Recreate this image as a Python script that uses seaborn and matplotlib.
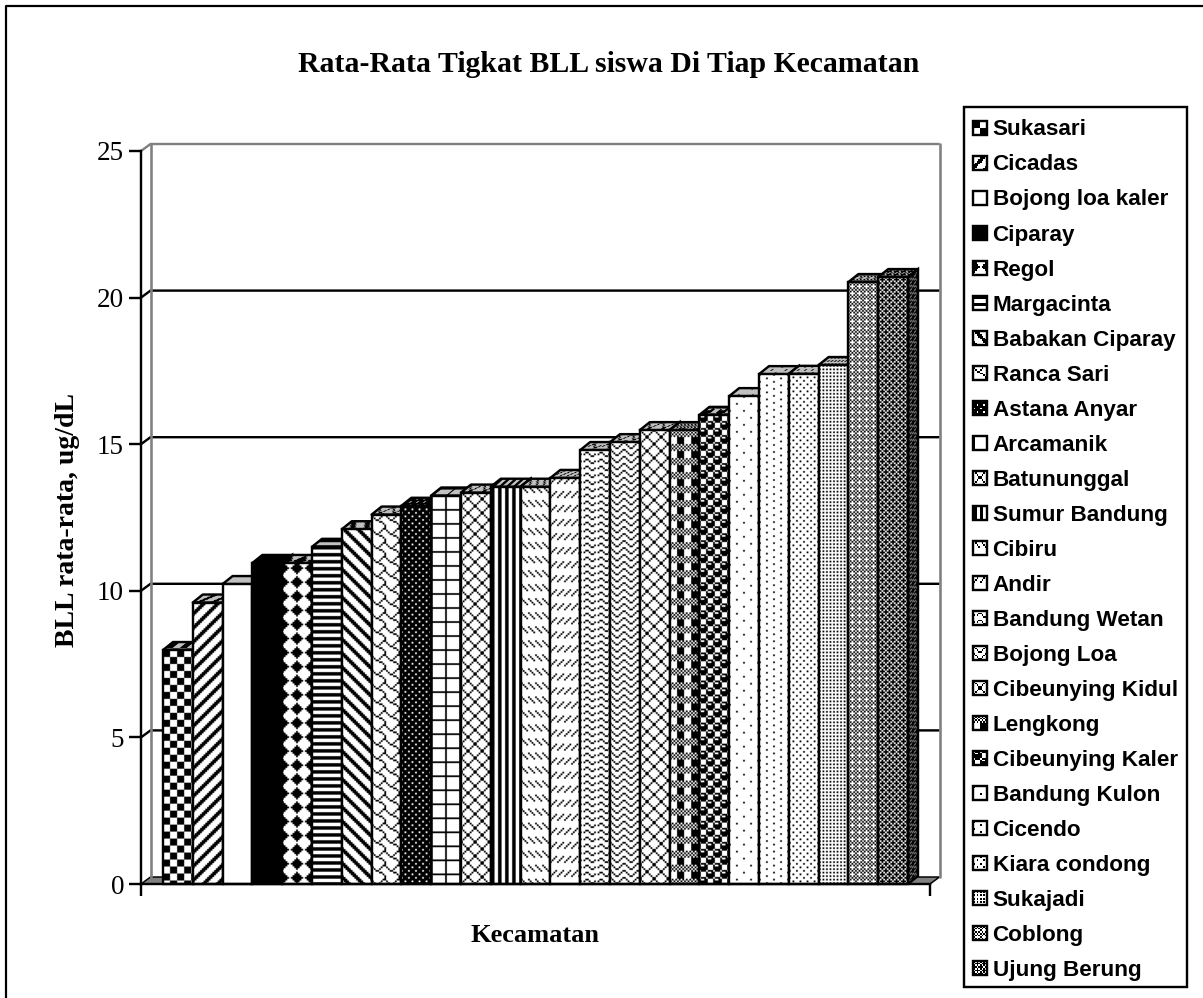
import numpy as np
import pandas as pd
import seaborn as sns
import matplotlib.pyplot as plt
from matplotlib.legend_handler import HandlerBase
from matplotlib.lines import Line2D
from matplotlib.patches import Patch, PathPatch, Polygon, Rectangle
from matplotlib.path import Path
from matplotlib.transforms import Affine2D

kecamatan = ['Sukasari', 'Cicadas', 'Bojong loa kaler', 'Ciparay', 'Regol', 'Margacinta',
             'Babakan Ciparay', 'Ranca Sari', 'Astana Anyar', 'Arcamanik', 'Batununggal',
             'Sumur Bandung', 'Cibiru', 'Andir', 'Bandung Wetan', 'Bojong Loa',
             'Cibeunying Kidul', 'Lengkong', 'Cibeunying Kaler', 'Bandung Kulon', 'Cicendo',
             'Kiara condong', 'Sukajadi', 'Coblong', 'Ujung Berung']
bll = [7.98, 9.6, 10.23, 10.95, 10.95, 11.5, 12.1, 12.6, 12.9, 13.25, 13.35, 13.55, 13.55,
       13.85, 14.8, 15.07, 15.48, 15.48, 16.0, 16.64, 17.39, 17.4, 17.7, 20.53, 20.7]
y_ticks = [0, 5, 10, 15, 20, 25]

# excel style fill patterns, X is black
diag_dn = ['XXX.....', '.XXX....', '..XXX...', '...XXX..', '....XXX.', '.....XXX', 'X.....XX', 'XX.....X']
dash_dn = ['X...X...', '.X...X..', '..X...X.', '...X...X', '........', '........', '........', '........']
lattice = ['X......X', '.X....X.', '..X..X..', '...XX...', '...XX...', '..X..X..', '.X....X.', 'X......X']
patterns = [
    ['XXXX....', 'XXXX....', 'XXXX....', 'XXXX....', '....XXXX', '....XXXX', '....XXXX', '....XXXX'],
    [r[::-1] for r in diag_dn],
    ['.'],
    ['X'],
    ['X.......', 'XX.....X', 'XXX...XX', 'XXXX.XXX', 'XXX...XX', 'XX.....X', 'X.......', '........'],
    ['X', 'X', '.', '.'],
    diag_dn,
    ['......XX', 'X....X..', '.X..X...', '..XX....', '....XX..', '......X.', '.......X', '.......X'],
    ['.XXX', 'XXXX', 'XX.X', 'XXXX'],
    ['XXXXXXXX', 'X.......', 'X.......', 'X.......', 'X.......', 'X.......', 'X.......', 'X.......'],
    lattice,
    ['XX..'],
    dash_dn,
    [r[::-1] for r in dash_dn],
    ['........', '...XX...', 'X.X..X..', '......XX'],
    ['X......X', '.X....X.', '..X..X..', '...XX...'],
    lattice,
    ['.X.X.X.X', 'X.X.X.X.', '.X.X.X.X', 'X.X.X.X.', '....XXXX', '....XXXX', '....XXXX', '....XXXX'],
    ['.XXX.XXX', 'X..XX...', 'XXXXX...', 'XXXXX...', '.XXX.XXX', 'X...X..X', 'X...XXXX', 'X...XXXX'],
    ['X.......', '........', '........', '........', '....X...', '........', '........', '........'],
    ['X.......', '........', '....X...', '........'],
    ['X...', '....', '..X.', '....'],
    ['X.', '..'],
    ['X.X.', '.X.X', 'X...', '.X.X'],
    ['X.X.', '.XXX', 'X.X.', 'XX.X'],
]

CELL = 1.75  # px per pattern cell
W, H = 1203, 998
AX_L, AX_R, AX_T, AX_B = 141, 930, 151, 884
BAR_DX, BAR_DY = 10, 8
WALL_DX, WALL_DY = 9.5, 7
PX = 1 / 100 * 72  # one pixel in points


def tile_image(rows, n_rows, n_cols, white=1.0):
    t = np.array([[0.0 if c == 'X' else white for c in r] for r in rows])
    reps = (n_rows // t.shape[0] + 1, n_cols // t.shape[1] + 1)
    return np.tile(t, reps)[:n_rows, :n_cols]


class SwatchHandler(HandlerBase):
    def __init__(self, rows):
        super().__init__()
        self.rows = rows

    def create_artists(self, legend, orig_handle, xdescent, ydescent, width, height, fontsize, trans):
        box = Rectangle((-xdescent, -ydescent), width, height, facecolor='white', edgecolor='black',
                        linewidth=2.4 * PX, transform=trans)
        t = tile_image(self.rows, 8, 8)
        cw, ch = width / 8, height / 8
        verts, codes = [], []
        for r in range(8):
            for c in range(8):
                if t[r, c] == 0:
                    x0, y0 = c * cw - xdescent, (7 - r) * ch - ydescent
                    verts += [(x0, y0), (x0 + cw, y0), (x0 + cw, y0 + ch), (x0, y0 + ch), (x0, y0)]
                    codes += [Path.MOVETO, Path.LINETO, Path.LINETO, Path.LINETO, Path.CLOSEPOLY]
        if not verts:
            return [box]
        fill = PathPatch(Path(verts, codes), facecolor='black', edgecolor='none', transform=trans)
        return [box, fill]


sns.set_style('white')
df = pd.DataFrame({'kecamatan': kecamatan, 'bll': bll})

fig = plt.figure(figsize=(W / 100, H / 100), dpi=100)
ax = fig.add_axes([AX_L / W, 1 - AX_B / H, (AX_R - AX_L) / W, (AX_B - AX_T) / H])

sns.barplot(data=df, x='kecamatan', y='bll', ax=ax, fill=False, color='black', width=1,
            linewidth=2.4 * PX, errorbar=None)
bars = list(ax.patches)

bar_w = 29.8
xlim = ((AX_L - 163) / bar_w - 0.5, (AX_R - 163) / bar_w - 0.5)
ylim = (0, 25)
ax.set_autoscale_on(False)
ax.set_xlim(xlim)
ax.set_ylim(ylim)
ux = (AX_R - AX_L) / (xlim[1] - xlim[0])  # px per x unit
uy = (AX_B - AX_T) / 25  # px per y unit

# back wall, floor and gridlines of the fake 3d box
wx, wy = WALL_DX / ux, WALL_DY / uy
ax.add_patch(Polygon([(xlim[0], 0), (xlim[0] + wx, wy), (xlim[1] + wx, wy), (xlim[1], 0)],
                     facecolor='#808080', edgecolor='black', linewidth=1.5 * PX, clip_on=False, zorder=1))
for v in y_ticks[1:]:
    c = '#808080' if v == 25 else 'black'
    ax.plot([xlim[0], xlim[0] + wx, xlim[1] + wx], [v, v + wy, v + wy], color=c, lw=2.4 * PX,
            clip_on=False, zorder=1, solid_capstyle='butt')
ax.plot([xlim[0] + wx, xlim[0] + wx], [wy, 25 + wy], color='#808080', lw=2.6 * PX, clip_on=False, zorder=1)
ax.plot([xlim[1] + wx, xlim[1] + wx], [wy, 25 + wy], color='#808080', lw=2.6 * PX, clip_on=False, zorder=1)

# pattern fills, each bar sits over the side of the one before
dx, dy = BAR_DX / ux, BAR_DY / uy
for i, bar in enumerate(bars):
    rows = patterns[i]
    x0, x1 = bar.get_x(), bar.get_x() + bar.get_width()
    v = bar.get_height()
    z = 5 + i
    n_c = int(round(bar_w / CELL))
    n_r = int(round(v * uy / CELL))
    bar.set_zorder(z + 0.5)
    bar.set_clip_on(False)
    # top face
    top = tile_image(rows, 5, n_c, white=0.75)
    ax.imshow(top, extent=(0, 1, 0, 1), cmap='gray', vmin=0, vmax=1, aspect='auto', zorder=z,
              transform=Affine2D.from_values(x1 - x0, 0, dx, dy, x0, v) + ax.transData)
    ax.add_patch(Polygon([(x0, v), (x0 + dx, v + dy), (x1 + dx, v + dy), (x1, v)], fill=False,
                         edgecolor='black', linewidth=2.4 * PX, zorder=z + 0.2, joinstyle='round'))
    # side face
    side = tile_image(rows, n_r, 5, white=0.5)
    ax.imshow(side, extent=(0, 1, 0, 1), cmap='gray', vmin=0, vmax=1, aspect='auto', zorder=z,
              transform=Affine2D.from_values(dx, dy, 0, v, x1, 0) + ax.transData)
    ax.add_patch(Polygon([(x1, 0), (x1 + dx, dy), (x1 + dx, v + dy), (x1, v)], fill=False,
                         edgecolor='black', linewidth=2.4 * PX, zorder=z + 0.2))
    # front face
    ax.imshow(tile_image(rows, n_r, n_c), extent=(x0, x1, 0, v), cmap='gray', vmin=0, vmax=1,
              aspect='auto', zorder=z + 0.3)

ax.set_xlim(xlim)
ax.set_ylim(ylim)
ax.set_facecolor('none')
sns.despine(ax=ax)
for side_name in ['left', 'bottom']:
    ax.spines[side_name].set_linewidth(2.4 * PX)
    ax.spines[side_name].set_color('black')
    ax.spines[side_name].set_zorder(40)

ax.set_xticks(list(xlim))
ax.set_xticklabels([])
ax.set_yticks(y_ticks)
ax.tick_params(axis='both', which='major', direction='out', length=12 * PX, width=2.4 * PX,
               color='black', bottom=True, left=True)
ax.tick_params(axis='y', pad=5 * PX)
for lab in ax.get_yticklabels():
    lab.set_fontfamily('Liberation Serif')
    lab.set_fontsize(19.5)
    lab.set_color('black')

ax.set_xlabel('')
ax.set_ylabel('')
fig.text(535 / W, 1 - 936 / H, 'Kecamatan', family='Liberation Serif', fontweight='bold', fontsize=19,
         ha='center', va='center', color='black')
fig.text(67 / W, 1 - 520 / H, 'BLL rata-rata, ug/dL', family='Liberation Serif', fontweight='bold',
         fontsize=20, rotation=90, ha='center', va='center', color='black')
fig.text(609 / W, 1 - 65 / H, 'Rata-Rata Tigkat BLL siswa Di Tiap Kecamatan', family='Liberation Serif',
         fontweight='bold', fontsize=21.4, ha='center', va='center', color='black')

handles = [Patch(label=k) for k in kecamatan]
leg = ax.legend(handles=handles, handler_map={h: SwatchHandler(p) for h, p in zip(handles, patterns)},
                loc='upper left', bbox_to_anchor=(964 / W, 1 - 110 / H), bbox_transform=fig.transFigure,
                borderaxespad=0, fancybox=False, framealpha=1, edgecolor='black', borderpad=0.42,
                labelspacing=0.623, handlelength=0.58, handleheight=0.58, handletextpad=0.27,
                labelcolor='black', prop={'family': 'Liberation Sans', 'weight': 'bold', 'size': 16.2})
leg.get_frame().set_linewidth(2.4 * PX)
leg.get_frame().set_transform(Affine2D().translate(0, 3))  # text sits a bit low in the box
leg.set_zorder(50)

# chart area border, only top and left are visible in the crop
fig.add_artist(Line2D([5.5 / W, 5.5 / W, 1], [0, 1 - 5.5 / H, 1 - 5.5 / H], color='black', lw=2.2 * PX,
                      transform=fig.transFigure))

fig.savefig('out.png', dpi=100)
